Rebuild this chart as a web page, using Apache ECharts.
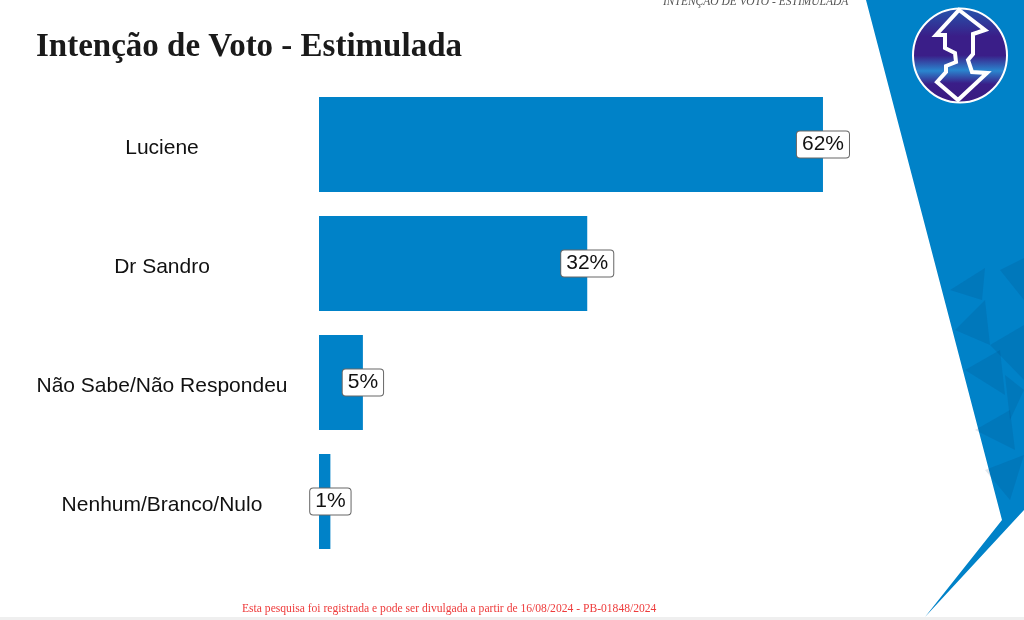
<!DOCTYPE html>
<html>
<head>
<meta charset="utf-8">
<script src="https://cdn.jsdelivr.net/npm/echarts@6/dist/echarts.min.js"></script>
<style>
  html, body { margin: 0; padding: 0; background: #fff; }
  #chart { width: 1024px; height: 620px; }
</style>
</head>
<body>
<div id="chart"></div>
<script>
// data
const candidates = ['Luciene', 'Dr Sandro', 'Não Sabe/Não Respondeu', 'Nenhum/Branco/Nulo'];
const barValues = [62, 33, 5.4, 1.4];
const valueLabels = ['62%', '32%', '5%', '1%'];

const blue = '#0082c8';
const chart = echarts.init(document.getElementById('chart'));

// decorative shapes on the right (background art)
const darkTris = [
  [[950, 290], [985, 268], [982, 300]],
  [[1000, 270], [1024, 258], [1024, 300]],
  [[955, 330], [985, 300], [990, 345]],
  [[990, 345], [1024, 325], [1024, 380]],
  [[965, 370], [1000, 350], [1005, 395]],
  [[1005, 375], [1024, 390], [1010, 420]],
  [[975, 430], [1010, 410], [1015, 450]],
  [[985, 470], [1024, 455], [1010, 500]]
];
const logoGrad = new echarts.graphic.LinearGradient(0, 0, 0, 1, [
  { offset: 0, color: '#2556ad' }, { offset: 0.3, color: '#3a1e88' },
  { offset: 0.5, color: '#3a1e88' }, { offset: 0.66, color: '#2a86cf' },
  { offset: 0.8, color: '#3a1e88' }, { offset: 1, color: '#3a1a80' }
]);
const arrowPts = [[959, 10], [985, 30], [973, 34], [973, 54], [968, 60], [972, 72], [987, 73],
  [958, 100], [937, 82], [946, 72], [946, 66], [956, 62], [955, 53], [945, 48], [945, 35], [936, 35]];

chart.setOption({
  animation: false,
  title: {
    text: 'Intenção de Voto - Estimulada', left: 31, top: 26,
    textStyle: { fontFamily: 'Liberation Serif', fontSize: 33, fontWeight: 'bold', color: '#1a1a1a' }
  },
  graphic: [
    { type: 'polygon', z: -10, shape: { points: [[866, 0], [1024, 0], [1024, 510], [925, 617], [1002, 520]] }, style: { fill: blue } },
    ...darkTris.map(p => ({ type: 'polygon', z: -9, shape: { points: p }, style: { fill: 'rgba(0,50,100,0.12)' } })),
    { type: 'rect', z: -10, shape: { x: 0, y: 617, width: 1024, height: 3 }, style: { fill: '#efefef' } },
    { type: 'circle', shape: { cx: 960, cy: 55.5, r: 47 }, style: { fill: logoGrad, stroke: '#fff', lineWidth: 2 } },
    { type: 'polygon', shape: { points: arrowPts }, style: { fill: logoGrad, stroke: '#fff', lineWidth: 4, lineJoin: 'miter' } },
    { type: 'text', left: 663, top: -4, style: { text: 'INTENÇÃO DE VOTO - ESTIMULADA', font: 'italic 11.5px "Liberation Serif"', fill: '#555' } },
    { type: 'text', left: 242, top: 603, style: { text: 'Esta pesquisa foi registrada e pode ser divulgada a partir de 16/08/2024 - PB-01848/2024', font: '11.6px "Liberation Serif"', fill: '#ee3b3b' } }
  ],
  grid: { left: 319, top: 85, bottom: 59, right: 136 },
  xAxis: { type: 'value', min: 0, max: 70, show: false },
  yAxis: {
    type: 'category', data: candidates, inverse: true,
    axisLine: { show: false }, axisTick: { show: false },
    axisLabel: {
      align: 'center', margin: 157, formatter: v => '{n|' + v + '}',
      rich: { n: { fontFamily: 'Liberation Sans', fontSize: 21, color: '#111', padding: [7, 0, 0, 0] } }
    }
  },
  series: [{
    type: 'bar', data: barValues, barCategoryGap: '20%',
    itemStyle: { color: blue },
    label: {
      show: true, position: ['100%', '50%'], align: 'center', verticalAlign: 'middle',
      formatter: p => valueLabels[p.dataIndex],
      fontFamily: 'Liberation Sans', fontSize: 21, color: '#111', lineHeight: 22,
      backgroundColor: '#fff', borderColor: '#666', borderWidth: 1, borderRadius: 3, padding: [3, 5, 1, 5]
    }
  }]
});
</script>
</body>
</html>
